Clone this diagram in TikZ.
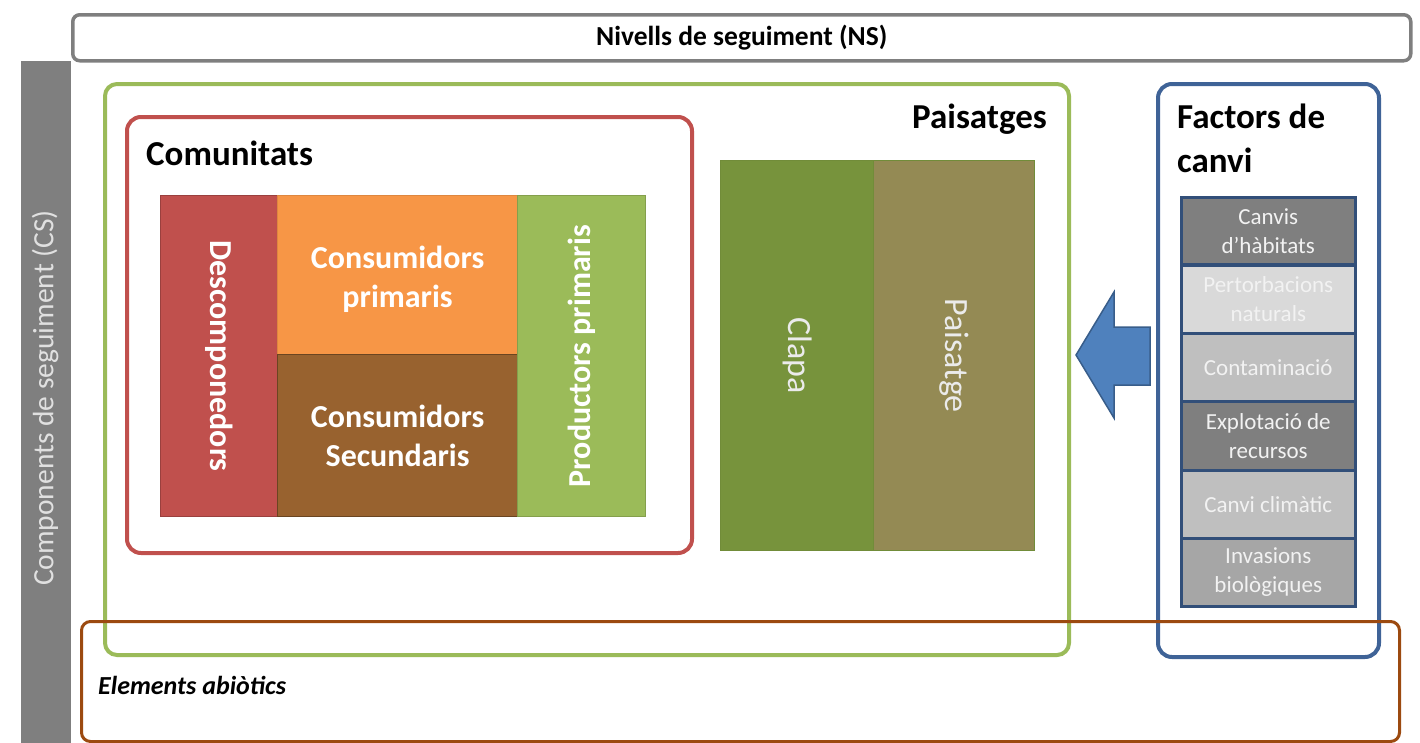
\documentclass[tikz,border=0pt]{standalone}
\usepackage{fontspec}
\setmainfont{Carlito}
\definecolor{cgray}{HTML}{7F7F7F}
\definecolor{cgreen}{HTML}{9BBB59}
\definecolor{cred}{HTML}{C0504D}
\definecolor{cblue}{HTML}{3F6397}
\definecolor{cbrown}{HTML}{9C4A10}
\definecolor{corange}{HTML}{F79646}
\definecolor{cbrownfill}{HTML}{98622F}
\definecolor{cclapa}{HTML}{77933C}
\definecolor{cpais}{HTML}{948A54}
\definecolor{carrow}{HTML}{4F81BD}
\definecolor{carrowb}{HTML}{385D8A}
\begin{document}
\begin{tikzpicture}[x=1pt,y=-1pt,
  cell/.style={rectangle, inner sep=0pt, anchor=north west, line width=1.2pt},
  frame/.style={rectangle, inner sep=0pt, anchor=north west, draw, line width=4pt},
  head/.style={font=\fontsize{35}{44}\selectfont\bfseries, inner sep=0pt, align=left},
  comm/.style={font=\fontsize{32}{39}\selectfont\bfseries, text=white, inner sep=0pt, align=center},
  land/.style={font=\fontsize{34}{40}\selectfont, text=white!92!black, inner sep=0pt},
  fact/.style={cell, draw=cblue!80!black, line width=2.5pt, minimum width=174pt,
               font=\fontsize{23}{29}\selectfont, text=white!95!black, align=center},
]
\useasboundingbox (0,0) rectangle (1420,742);

% top bar
\node[frame, draw=cgray, line width=3.5pt, rounded corners=7pt, minimum width=1338pt, minimum height=46pt] (ns) at (71,13) {};
\node[font=\fontsize{27.5}{32}\selectfont\bfseries, inner sep=0pt] (nslab) at (ns.center) {Nivells de seguiment (NS)};

% left bar
\node[cell, fill=cgray, minimum width=50pt, minimum height=682pt] (cs) at (20,60) {};
\node[rotate=90, font=\fontsize{29.5}{32}\selectfont, text=white!88!black, inner sep=0pt] (cslab) at (45,398) {Components de seguiment (CS)};

% landscapes frame
\node[frame, draw=cgreen, rounded corners=12pt, minimum width=964pt, minimum height=571pt] (pais) at (103,82) {};
\node[head, anchor=east] (paislab) at (1047,119) {Paisatges};

% communities frame
\node[frame, draw=cred, rounded corners=14pt, minimum width=565pt, minimum height=436pt] (com) at (125,115) {};
\node[head, anchor=west] (comlab) at (146,153) {Comunitats};

% community cells
\node[cell, fill=cred, draw=cred!80!black, minimum width=117pt, minimum height=321pt] (desc) at (160,195) {};
\node[comm, rotate=-90] (desclab) at (desc.center) {Descomponedors};
\node[cell, fill=corange, draw=corange!90!black, minimum width=240pt, minimum height=159pt] (cp) at (277,195) {};
\node[comm] (cplab) at ([yshift=-4pt]cp.center) {Consumidors\\primaris};
\node[cell, fill=cbrownfill, draw=cbrownfill!70!black, minimum width=240pt, minimum height=162pt] (csec) at (277,354) {};
\node[comm] (cseclab) at (csec.center) {Consumidors\\Secundaris};
\node[cell, fill=cgreen, draw=cgreen!85!black, minimum width=128pt, minimum height=321pt] (pp) at (517,195) {};
\node[comm, rotate=90] (pplab) at (pp.center) {Productors primaris};

% landscape cells
\node[cell, fill=cclapa, draw=cclapa!95!black, minimum width=153pt, minimum height=390pt] (clapa) at (720,160) {};
\node[land, rotate=-90] (clapalab) at (clapa.center) {Clapa};
\node[cell, fill=cpais, draw=cclapa!95!black, minimum width=161pt, minimum height=390pt] (paisatge) at (873,160) {};
\node[land, rotate=-90] (paisatgelab) at (paisatge.center) {Paisatge};

% arrow
\draw[fill=carrow, draw=carrowb, line width=1.5pt, line join=miter]
  (1150,327) -- (1114,327) -- (1114,292) -- (1076,355) -- (1114,418) -- (1114,385) -- (1150,385) -- cycle;

% factors frame
\node[frame, draw=cblue, rounded corners=14pt, minimum width=221pt, minimum height=573pt] (fac) at (1156,82) {};
\node[head, anchor=north west] (faclab) at (1177,104) {Factors de\\canvi};

\node[fact, fill=cgray, minimum height=67pt] (f1) at (1180,196) {Canvis\\d’hàbitats};
\node[fact, fill=white!85!black, minimum height=68pt] (f2) at (1180,264) {Pertorbacions\\naturals};
\node[fact, fill=white!75!black, minimum height=68pt] (f3) at (1180,332) {Contaminació};
\node[fact, fill=cgray, minimum height=69pt] (f4) at (1180,400) {Explotació de\\recursos};
\node[fact, fill=white!75!black, minimum height=68pt] (f5) at (1180,469) {Canvi climàtic};
\node[fact, fill=white!65!black, minimum height=68pt] (f6) at (1180,537) {Invasions\\biològiques};

% abiotic frame
\node[frame, draw=cbrown, line width=3pt, rounded corners=9pt, minimum width=1318pt, minimum height=120pt] (abio) at (80,620) {};
\node[font=\fontsize{26}{30}\selectfont\bfseries\itshape, anchor=west, inner sep=0pt] (abiolab) at (98,685) {Elements abiòtics};
\end{tikzpicture}
\end{document}
